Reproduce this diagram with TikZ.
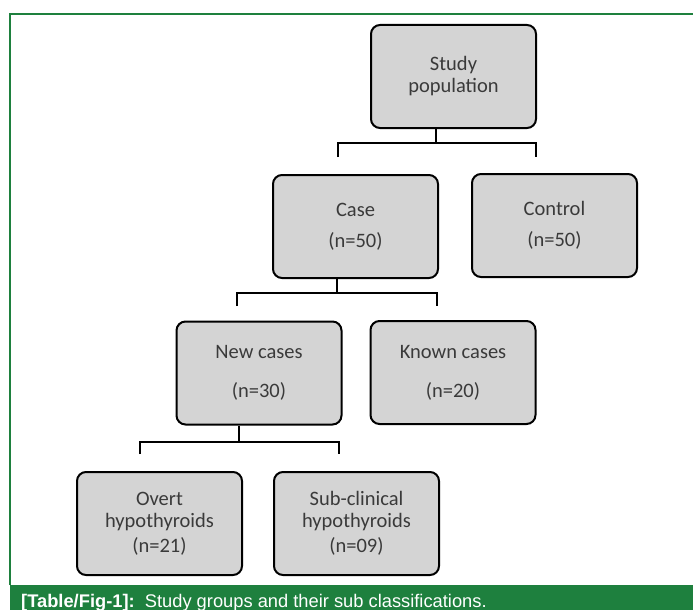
\documentclass[tikz,border=0pt]{standalone}
\usepackage{fontspec}
\setmainfont{Carlito}
\newfontfamily\capfont{Liberation Sans}

\definecolor{framegreen}{RGB}{30,128,62}
\definecolor{boxgray}{RGB}{212,212,212}
\definecolor{boxtext}{RGB}{58,58,58}

\tikzset{
    groupbox/.style={draw=black, line width=2pt, fill=boxgray, rounded corners=9pt,
        minimum width=165pt, minimum height=103pt, inner sep=0pt, align=center,
        text=boxtext, font=\fontsize{20.5}{22}\selectfont},
    link/.style={line width=2.6pt}
}

\begin{document}
\begin{tikzpicture}[x=1pt, y=-1pt]
    \useasboundingbox (0,0) rectangle (693,610);

    % frame and caption band
    \fill[framegreen] (10,585) rectangle (693,610);
    \draw[framegreen, line width=1.6pt] (10,585) -- (10,14) -- (693,14);
    \node[anchor=base west, inner sep=0pt, text=white, font=\capfont\fontsize{18.3}{20}\selectfont] (caption) at (21,607)
        {\textbf{[Table/Fig-1]:}\ \ Study groups and their sub classifications.};

    % groups
    \node[groupbox] (study) at (453.5,76.5) {Study\\population};
    \node[groupbox] (case) at (355.5,226.5) {Case\\[9pt](n=50)};
    \node[groupbox] (control) at (554.5,225.5) {Control\\[9pt](n=50)};
    \node[groupbox] (new) at (259,373) {New cases\\[17pt](n=30)};
    \node[groupbox] (known) at (453,372.5) {Known cases\\[17pt](n=20)};
    \node[groupbox] (overt) at (159.5,523.5) {Overt\\hypothyroids\\[3pt](n=21)};
    \node[groupbox] (sub) at (356.5,523.5) {Sub-clinical\\hypothyroids\\[3pt](n=09)};

    % brackets
    \coordinate (j1) at (436,143);
    \coordinate (d1l) at (338,157);
    \coordinate (d1r) at (536,157);
    \draw[link] (study.south -| j1) -- (j1);
    \draw[link] (d1l) -- (d1l |- j1) -- (d1r |- j1) -- (d1r);

    \coordinate (j2) at (337,293);
    \coordinate (d2l) at (237,306);
    \coordinate (d2r) at (437,306);
    \draw[link] (case.south -| j2) -- (j2);
    \draw[link] (d2l) -- (d2l |- j2) -- (d2r |- j2) -- (d2r);

    \coordinate (j3) at (239,442);
    \coordinate (d3l) at (140,454);
    \coordinate (d3r) at (339,454);
    \draw[link] (new.south -| j3) -- (j3);
    \draw[link] (d3l) -- (d3l |- j3) -- (d3r |- j3) -- (d3r);
\end{tikzpicture}
\end{document}
